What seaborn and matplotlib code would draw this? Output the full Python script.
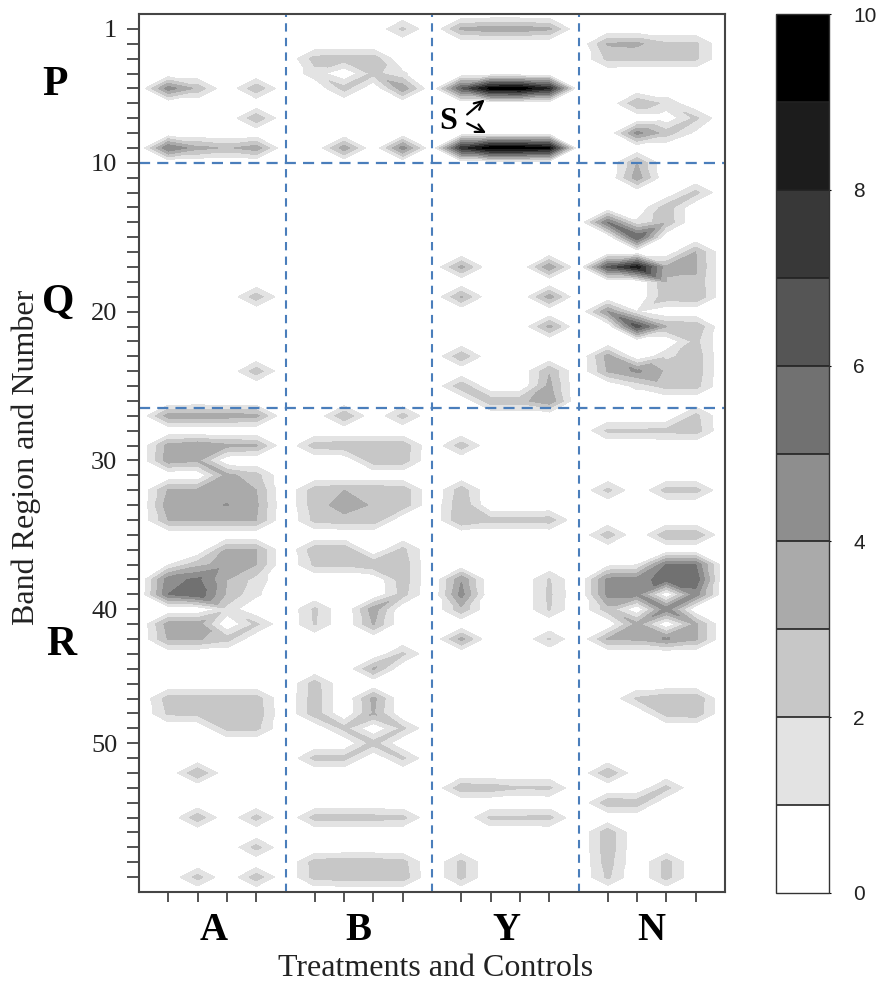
"""
Filled contour map of band intensity per treatment and control.
"""
import numpy as np
import matplotlib
matplotlib.use("Agg")
import matplotlib.pyplot as plt
import matplotlib.tri as mtri
import seaborn as sns

# columns: A1-4, B1-4, Y1-4, N1-4
region_p = [
    [0, 0, 0, 0, 0, 0, 0, 2.2, 3.2, 3.6, 3.6, 3.2, 0, 0, 0, 0],
    [0, 0, 0, 0, 0, 0, 0, 0, 0, 0, 0, 0, 3.1, 3.2, 2.2, 2.2],
    [0, 0, 0, 0, 2.4, 2.5, 2.6, 0, 0, 0, 0, 0, 2.3, 2.2, 2.2, 2.2],
    [0, 0, 0, 0, 1.6, 0, 2.3, 1.2, 0, 0, 0, 0, 0, 0, 0, 0],
    [4.5, 2.7, 0, 2.8, 0, 2.4, 0, 3.7, 6, 9.4, 9.6, 8, 0, 0, 0, 0],
    [0, 0, 0, 0, 0, 0, 0, 0, 0, 0, 0, 0, 0, 2.9, 1.7, 0],
    [0, 0, 0, 2.8, 0, 0, 0, 0, 0, 0, 0, 0, 0, 0, 0.2, 2.2],
    [0, 0, 0, 0, 0, 0, 0, 0, 0, 0, 0, 0, 0, 4.3, 2.5, 0.7],
    [5, 3.4, 2.8, 3.6, 0, 3.6, 0, 4.5, 7.5, 9.6, 9.6, 9, 0, 0, 0, 0],
    [0, 0, 0, 0, 0, 0, 0, 0, 0, 0, 0, 0, 0, 3, 0, 0],
]
region_q = [
    [0, 0, 0, 0, 0, 0, 0, 0, 0, 0, 0, 0, 0, 3.6, 0, 0],
    [0, 0, 0, 0, 0, 0, 0, 0, 0, 0, 0, 0, 0, 0, 0, 2.3],
    [0, 0, 0, 0, 0, 0, 0, 0, 0, 0, 0, 0, 0, 0, 2.6, 0],
    [0, 0, 0, 0, 0, 0, 0, 0, 0, 0, 0, 0, 5, 1.2, 2.7, 0],
    [0, 0, 0, 0, 0, 0, 0, 0, 0, 0, 0, 0, 0, 6, 0, 0],
    [0, 0, 0, 0, 0, 0, 0, 0, 0, 0, 0, 0, 0, 0, 0, 3],
    [0, 0, 0, 0, 0, 0, 0, 0, 3.3, 0, 0, 3.8, 6.2, 8.5, 3.2, 3.1],
    [0, 0, 0, 0, 0, 0, 0, 0, 0, 0, 0, 0, 0, 0, 2.9, 2.9],
    [0, 0, 0, 2.6, 0, 0, 0, 0, 3.1, 0, 0, 3.5, 0, 0, 2.7, 3],
    [0, 0, 0, 0, 0, 0, 0, 0, 0, 0, 0, 0, 4, 1, 0, 0],
    [0, 0, 0, 0, 0, 0, 0, 0, 0, 0, 0, 3.3, 0, 6.5, 3, 2.8],
    [0, 0, 0, 0, 0, 0, 0, 0, 0, 0, 0, 0, 0, 0, 0, 2.3],
    [0, 0, 0, 0, 0, 0, 0, 0, 2.8, 0, 0, 0, 3.4, 0, 1.7, 2.6],
    [0, 0, 0, 2.6, 0, 0, 0, 0, 0, 0, 0, 2.9, 3.1, 4.2, 2.8, 2.6],
    [0, 0, 0, 0, 0, 0, 0, 0, 2.7, 0, 0, 3.3, 0, 1.3, 2.4, 2.4],
    [0, 0, 0, 0, 0, 0, 0, 0, 0, 2.6, 2.6, 3.8, 0, 0, 0, 0],
]
region_r = [
    [3.5, 3.6, 3.5, 3.3, 0, 2.9, 0, 2.4, 0, 0, 0, 0, 0, 0, 0, 2.3],
    [0, 0, 0, 0, 0, 0, 0, 0, 0, 0, 0, 0, 2.2, 2.2, 2.3, 2.5],
    [3.4, 3.9, 3.3, 3.1, 2.5, 2.7, 2.7, 2.7, 2.6, 0, 0, 0, 0, 0, 0, 0],
    [3.6, 3.2, 0, 0, 0, 0, 2.6, 2.6, 0, 0, 0, 0, 0, 0, 0, 0],
    [0, 0, 3.3, 2.4, 0, 0, 0, 0, 0, 0, 0, 0, 0, 0, 0, 0],
    [3.1, 3.2, 3.6, 3, 2.6, 3, 2.8, 2.7, 2.6, 0, 0, 0, 2.3, 0, 2.4, 2.4],
    [3.6, 3.6, 4.05, 3.2, 2.6, 3.4, 2.9, 2.7, 2.9, 0, 0, 0, 0, 0, 0, 0],
    [3, 3, 3, 3, 2.3, 2.7, 2.7, 0, 3, 2.3, 2.3, 2.5, 0, 0, 0, 0],
    [0, 0, 0, 0, 0, 0, 0, 0, 0, 0, 0, 0, 2.6, 0, 2.8, 2.8],
    [0, 0, 3.1, 3, 2.7, 2.8, 0, 2.3, 0, 0, 0, 0, 0, 0, 0, 0],
    [0.9, 2.6, 3.5, 3, 2.2, 2.2, 2.8, 2.6, 0, 0, 0, 0, 0.6, 0.9, 5, 5],
    [4.6, 5.2, 3, 1.6, 0, 0, 0, 2.6, 3.9, 0, 0, 2.1, 4.3, 4.5, 5.5, 5.7],
    [5, 5.8, 2.8, 1.2, 0, 0, 0, 2.4, 4.4, 0, 0, 2.2, 4.3, 4.3, 0, 4.5],
    [0, 0, 1.6, 0, 2.2, 0, 3.6, 0, 2.7, 0, 0, 2.1, 2.6, 0, 4.6, 0],
    [3.5, 3.5, 0, 2.2, 2.1, 0, 3.1, 0, 0, 0, 0, 0, 0, 3.3, 0, 3.2],
    [3.1, 3.1, 2.4, 0, 0, 0, 0, 0, 3.3, 0, 0, 2.1, 3.1, 3.2, 4.1, 3.2],
    [0, 0, 0, 0, 0, 0, 0, 2.2, 0, 0, 0, 0, 0, 0, 0, 0],
    [0, 0, 0, 0, 0, 0, 3.1, 0, 0, 0, 0, 0, 0, 0, 0, 0],
    [0, 0, 0, 0, 2.5, 0, 0, 0, 0, 0, 0, 0, 0, 0, 0, 0],
    [2.5, 2.5, 2.5, 2.5, 2.6, 0, 3.3, 0, 0, 0, 0, 0, 0, 2.2, 2.8, 2.8],
    [2.2, 2.3, 2.6, 2.7, 2.6, 0, 3.1, 0, 0, 0, 0, 0, 0, 0, 2.4, 2.7],
    [0, 0, 2.3, 2.3, 0, 2.3, 0, 2.2, 0, 0, 0, 0, 0, 0, 0, 0],
    [0, 0, 0, 0, 0, 0, 2.4, 0, 0, 0, 0, 0, 0, 0, 0, 0],
    [0, 0, 0, 0, 2.3, 2.3, 0, 2.2, 0, 0, 0, 0, 0, 0, 0, 0],
    [0, 3, 0, 0, 0, 0, 0, 0, 0, 0, 0, 0, 2.9, 0, 0, 0],
    [0, 0, 0, 0, 0, 0, 0, 0, 2.7, 2.6, 2.1, 2.2, 0, 0, 2.3, 0],
    [0, 0, 0, 0, 0, 0, 0, 0, 0, 0, 0, 0, 2.7, 2.6, 0, 0],
    [0, 2.7, 0, 2.4, 2.4, 2.4, 2.4, 2.3, 0, 2.2, 2.2, 2.3, 0, 0, 0, 0],
    [0, 0, 0, 0, 0, 0, 0, 0, 0, 0, 0, 0, 2.7, 0, 0, 0],
    [0, 0, 0, 2.4, 0, 0, 0, 0, 0, 0, 0, 0, 2.7, 0, 0, 0],
    [0, 0, 0, 0, 2.5, 2.6, 2.6, 2.4, 2.3, 0, 0, 0, 2.5, 0, 2.4, 0],
    [0, 2.4, 0, 2.6, 2.4, 2.5, 2.6, 2.6, 2.3, 0, 0, 0, 2.2, 0, 2.4, 0],
]

lane_positions = [1, 2, 3, 4, 6, 7, 8, 9, 11, 12, 13, 14, 16, 17, 18, 19]
group_labels = ["A", "B", "Y", "N"]
group_centers = [2.55, 7.5, 12.55, 17.5]
divider_lanes = [5, 10, 15]
divider_bands = [10, 26.5]
band_tick_positions = [1, 10, 20, 30, 40, 49]
band_tick_labels = ["1", "10", "20", "30", "40", "50"]
region_labels = ["P", "Q", "R"]
region_label_x = [54.5, 58, 61]
region_label_y = [85, 303, 645]
levels = list(range(11))
colorbar_ticks = [0, 2, 4, 6, 8, 10]

W, H = 882, 985


def build_grid():
    """Pad the read values with empty lanes and bands so contours close."""
    rows = region_p + region_q + region_r
    grid = np.zeros((len(rows) + 2, 21))
    grid[1:-1, lane_positions] = np.array(rows)
    return grid


def split_cells(grid):
    """Cut each grid cell along the diagonal whose two corners agree best."""
    n_rows, n_cols = grid.shape
    flat = grid.ravel()
    triangles = []
    for r in range(n_rows - 1):
        for c in range(n_cols - 1):
            a = r * n_cols + c
            b = a + 1
            d = a + n_cols
            e = d + 1
            main = (min(flat[a], flat[e]), -abs(flat[a] - flat[e]))
            anti = (min(flat[b], flat[d]), -abs(flat[b] - flat[d]))
            if main >= anti:
                triangles += [[a, b, e], [a, e, d]]
            else:
                triangles += [[a, b, d], [b, e, d]]
    xs, ys = np.meshgrid(np.arange(n_cols), np.arange(n_rows))
    return mtri.Triangulation(xs.ravel(), ys.ravel(), triangles), flat


def axes_rect(left, top, right, bottom):
    return [left / W, 1 - bottom / H, (right - left) / W, (bottom - top) / H]


def build_chart(grid):
    sns.set_theme(style="ticks")
    plt.rcParams["font.family"] = ["Liberation Serif", "DejaVu Serif"]
    dark = "#454545"
    fig = plt.figure(figsize=(W / 100, H / 100), dpi=100)
    ax = fig.add_axes(axes_rect(139, 14, 725, 892))
    cax = fig.add_axes(axes_rect(776, 14, 829, 893))

    palette = sns.blend_palette(["white", "black"], 10)
    tri, flat = split_cells(grid)
    cf = ax.tricontourf(tri, flat, levels=levels, colors=palette)
    cf.set_edgecolor("face")
    cf.set_linewidth(0.2)

    ax.set_xlim(0, 20)
    ax.set_ylim(59, 0)
    for v in divider_lanes:
        ax.axvline(v, color="#4a7ebb", lw=1.5, dashes=(4, 3))
    for b in divider_bands:
        ax.axhline(b, color="#4a7ebb", lw=1.6, dashes=(5, 3.2))

    ax.set_xticks(lane_positions)
    ax.set_xticklabels([])
    ax.set_yticks(range(1, 59), minor=False)
    ax.set_yticklabels([band_tick_labels[band_tick_positions.index(b)]
                        if b in band_tick_positions else ""
                        for b in range(1, 59)], fontsize=19, color="#222222")
    ax.tick_params(axis="x", length=7.5, width=1.3, color=dark)
    ax.tick_params(axis="y", length=8.6, width=1.3, color=dark, pad=7)
    for spine in ax.spines.values():
        spine.set_visible(True)
        spine.set_color(dark)
        spine.set_linewidth(1.5)

    for name, center in zip(group_labels, group_centers):
        ax.text(center, -38 / 878, name, transform=ax.get_xaxis_transform(),
                ha="center", va="center", fontsize=28, fontweight="bold",
                color="black")
    for name, px, py in zip(region_labels, region_label_x, region_label_y):
        fig.text(px / W, 1 - py / H, name, ha="center", va="center",
                 fontsize=30, fontweight="bold", color="black")

    fig.text(436 / W, 1 - 969 / H, "Treatments and Controls", ha="center",
             va="center", fontsize=23, color="#222222")
    fig.text(26 / W, 1 - 457 / H, "Band Region and Number", ha="center",
             va="center", rotation=90, fontsize=23, color="#222222")

    # the S marker and its two arrows in the Y lanes
    ax.text(10.55, 7.2, "S", ha="center", va="center", fontsize=23,
            fontweight="bold", color="black")
    arrow = dict(arrowstyle="->", color="black", lw=1.6, mutation_scale=15,
                 shrinkA=0, shrinkB=0)
    ax.annotate("", xy=(11.8, 5.75), xytext=(11.2, 6.75), arrowprops=arrow)
    ax.annotate("", xy=(11.85, 8.0), xytext=(11.2, 7.35), arrowprops=arrow)

    cb = fig.colorbar(cf, cax=cax, drawedges=True)
    cb.set_ticks(colorbar_ticks)
    cb.ax.tick_params(length=1.5, width=0.8, pad=16, color="black",
                      labelsize=15, labelcolor="#222222")
    for label in cb.ax.get_yticklabels():
        label.set_fontfamily("Liberation Sans")
    cb.dividers.set_color("#222222")
    cb.dividers.set_linewidth(1.2)
    cb.outline.set_edgecolor("#333333")
    cb.outline.set_linewidth(1.0)

    fig.savefig("out.png", dpi=100)


def main():
    build_chart(build_grid())


if __name__ == "__main__":
    main()
